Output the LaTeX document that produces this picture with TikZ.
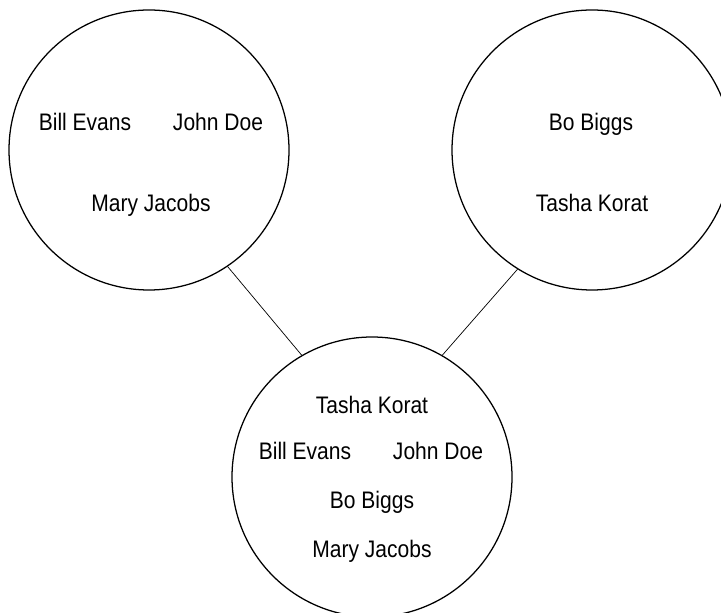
\documentclass[tikz,border=0pt]{standalone}
\usepackage{fontspec}
\setmainfont{Liberation Sans}[FakeStretch=0.88]
\usepackage{tikz}
\usetikzlibrary{positioning,calc}

\tikzset{
  group/.style={draw,circle,minimum size=7cm,inner sep=0pt,line width=0.9pt},
  member/.style={anchor=base,inner sep=0pt,font=\fontsize{17}{20}\selectfont},
  link/.style={line width=0.5pt}
}

\begin{document}
\begin{tikzpicture}[line join=round,line cap=round]
  \useasboundingbox (0,0) rectangle (18.025,15.3);
  \node[group] (L) at (3.725,11.55) {};\node[group] (R) at (14.8,11.55) {};\node[group] (M) at (9.3,3.375) {};
  \draw[link] (L.-56.5)--(M.120.5) (R.-122)--(M.60);
  \foreach \n/\x/\y/\t in {L1/2.125/12.025/Bill Evans,L2/5.45/12.025/John Doe,L3/3.775/10.0/Mary Jacobs,
    R1/14.775/12.025/Bo Biggs,R2/14.8/10.0/Tasha Korat,
    M1/9.3/4.95/Tasha Korat,M2/7.625/3.825/Bill Evans,M3/10.95/3.825/John Doe,M4/9.3/2.6/Bo Biggs,M5/9.3/1.375/Mary Jacobs}{\node[member] (\n) at (\x,\y) {\t};}
\end{tikzpicture}
\end{document}
